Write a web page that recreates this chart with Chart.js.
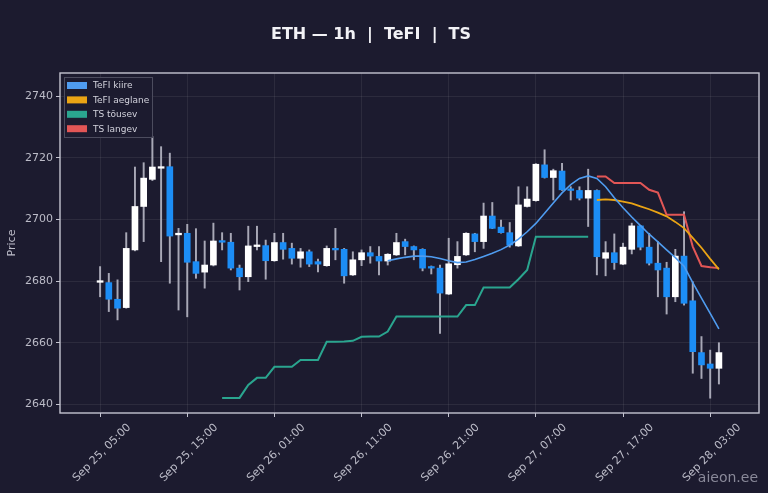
<!DOCTYPE html>
<html>
<head>
<meta charset="utf-8">
<script src="https://cdn.jsdelivr.net/npm/chart.js@4.4.1/dist/chart.umd.min.js"></script>
<style>
html, body { margin: 0; padding: 0; background: #1c1b2f; }
</style>
</head>
<body>
<canvas id="chart" width="768" height="493"></canvas>
<script>
// hourly candles, first one = Sep 25 05:00 (x value counts hours from Sep 25 00:00)
const firstHour = 5;
const tickHours = [5, 15, 25, 35, 45, 55, 65, 75];
const tickLabels = ['Sep 25, 05:00', 'Sep 25, 15:00', 'Sep 26, 01:00', 'Sep 26, 11:00',
                    'Sep 26, 21:00', 'Sep 27, 07:00', 'Sep 27, 17:00', 'Sep 28, 03:00'];
const priceTicks = [2640, 2660, 2680, 2700, 2720, 2740];

const opens = [2679.6, 2679.5, 2674.1, 2671.4, 2690.1, 2704.2, 2713.0, 2716.6, 2717.1, 2695.0,
               2695.5, 2686.3, 2682.9, 2685.2, 2692.9, 2692.6, 2684.2, 2681.4, 2691.2, 2691.5,
               2686.6, 2692.5, 2690.6, 2687.4, 2689.5, 2686.3, 2685.0, 2690.6, 2690.3, 2682.0,
               2686.9, 2689.2, 2688.0, 2686.5, 2688.5, 2692.8, 2691.2, 2690.3, 2684.7, 2684.2,
               2675.8, 2685.3, 2688.5, 2695.3, 2692.8, 2701.1, 2697.5, 2695.7, 2691.4, 2704.2,
               2706.1, 2717.7, 2713.6, 2715.7, 2709.8, 2709.4, 2706.9, 2709.4, 2687.4, 2689.2,
               2685.5, 2690.3, 2697.9, 2691.0, 2685.8, 2684.2, 2674.9, 2688.1, 2673.6, 2656.8,
               2653.1, 2651.7];
const highs = [2684.7, 2682.5, 2680.4, 2695.7, 2717.0, 2718.4, 2726.9, 2723.6, 2721.5, 2697.1,
               2698.4, 2697.0, 2693.0, 2698.8, 2695.7, 2695.5, 2685.2, 2697.8, 2697.8, 2693.3,
               2695.5, 2695.5, 2692.3, 2690.6, 2690.1, 2687.1, 2691.4, 2697.1, 2690.6, 2689.5,
               2690.1, 2691.2, 2691.2, 2688.9, 2695.5, 2693.6, 2691.4, 2690.5, 2684.9, 2685.2,
               2693.9, 2692.8, 2695.7, 2695.5, 2705.3, 2705.5, 2699.8, 2699.0, 2710.6, 2710.6,
               2718.1, 2722.6, 2716.3, 2718.2, 2710.6, 2710.6, 2716.3, 2709.6, 2692.8, 2695.3,
               2692.3, 2698.8, 2698.1, 2695.5, 2692.8, 2686.1, 2690.3, 2702.5, 2679.8, 2662.0,
               2657.6, 2660.0];
const lows = [2674.9, 2670.1, 2667.4, 2671.2, 2689.8, 2692.8, 2712.6, 2686.3, 2679.3, 2670.6,
              2668.4, 2680.9, 2677.7, 2684.9, 2690.1, 2683.6, 2677.1, 2679.8, 2690.1, 2680.6,
              2686.4, 2687.1, 2685.5, 2684.5, 2684.7, 2683.0, 2684.8, 2686.9, 2679.3, 2681.8,
              2685.0, 2685.8, 2682.0, 2685.2, 2688.3, 2688.5, 2686.9, 2683.3, 2682.3, 2663.0,
              2675.6, 2684.2, 2688.3, 2689.5, 2690.6, 2697.0, 2695.5, 2691.0, 2691.2, 2704.0,
              2705.9, 2713.4, 2706.3, 2709.4, 2706.3, 2706.3, 2697.7, 2682.0, 2681.7, 2683.8,
              2685.3, 2688.8, 2690.1, 2685.2, 2674.9, 2669.3, 2673.3, 2672.2, 2650.1, 2648.4,
              2642.0, 2646.6];
const closes = [2680.0, 2674.1, 2671.2, 2690.6, 2704.2, 2713.4, 2717.0, 2716.9, 2694.6, 2695.3,
                2686.1, 2682.5, 2685.2, 2693.0, 2692.6, 2684.2, 2681.4, 2691.4, 2691.4, 2686.6,
                2692.5, 2690.3, 2687.4, 2689.5, 2685.5, 2685.5, 2690.6, 2690.1, 2681.7, 2686.9,
                2689.2, 2688.1, 2686.5, 2688.7, 2692.5, 2691.2, 2690.1, 2684.2, 2684.2, 2676.1,
                2685.6, 2688.0, 2695.5, 2692.8, 2701.1, 2697.1, 2695.7, 2691.7, 2704.7, 2706.6,
                2717.9, 2713.6, 2715.8, 2709.6, 2709.4, 2706.9, 2709.4, 2687.9, 2689.2, 2686.0,
                2691.0, 2697.9, 2691.0, 2685.8, 2683.6, 2674.9, 2688.1, 2672.8, 2657.1, 2652.8,
                2651.7, 2656.8];

// indicator series, each starts at the given candle index
const tefiFastStart = 33;
const tefiFast = [2686.6, 2687.2, 2687.7, 2688.1, 2688.1, 2687.9, 2687.3, 2686.6, 2686.0, 2686.2,
                  2687.0, 2688.0, 2689.0, 2690.2, 2691.7, 2693.6, 2696.0, 2698.7, 2702.0, 2705.3,
                  2708.6, 2711.3, 2713.3, 2714.1, 2713.3, 2710.6, 2707.0, 2703.8, 2700.8, 2698.0,
                  2695.2, 2692.7, 2690.1, 2687.6, 2684.8, 2679.5, 2674.5, 2669.5, 2664.5];
const tefiSlowStart = 57;
const tefiSlow = [2706.3, 2706.5, 2706.3, 2705.8, 2705.2, 2704.2, 2703.3, 2702.2, 2701.0, 2699.2,
                  2697.2, 2694.0, 2690.8, 2687.2, 2683.8];
const tsUpStart = 14;
const tsUp = [2642.1, 2642.1, 2642.1, 2646.3, 2648.6, 2648.6, 2652.2, 2652.2, 2652.2, 2654.4,
              2654.4, 2654.4, 2660.3, 2660.3, 2660.4, 2660.6, 2661.9, 2662.0, 2662.0, 2663.6,
              2668.5, 2668.5, 2668.5, 2668.5, 2668.5, 2668.5, 2668.5, 2668.5, 2672.2, 2672.2,
              2677.9, 2677.9, 2677.9, 2677.9, 2680.6, 2683.6, 2694.4, 2694.4, 2694.4, 2694.4,
              2694.4, 2694.4, 2694.4];
const tsDownStart = 57;
const tsDown = [2713.9, 2713.9, 2711.8, 2711.8, 2711.8, 2711.8, 2709.6, 2708.7, 2701.5, 2701.5,
                2701.5, 2691.2, 2684.9, 2684.5, 2684.2];

const bgColor = '#1c1b2f';
const textColor = '#bcbcc8';
const upColor = '#ffffff';
const downColor = '#1c8df5';
const font = 'DejaVu Sans';

const bodies = opens.map((o, i) => ({x: firstHour + i, y: [o, closes[i]]}));
const wicks = lows.map((l, i) => ({x: firstHour + i, y: [l, highs[i]]}));
const bodyColors = opens.map((o, i) => closes[i] >= o ? upColor : downColor);

function linePoints(start, vals) {
    return vals.map((v, k) => ({x: firstHour + start + k, y: v}));
}

function lineSet(label, start, vals, color, width) {
    return {
        type: 'line',
        label: label,
        data: linePoints(start, vals),
        borderColor: color,
        backgroundColor: color,
        borderWidth: width,
        pointRadius: 0,
        tension: 0,
        fill: false,
        order: 1
    };
}

const decor = {
    id: 'decor',
    beforeDraw(chart) {
        const ctx = chart.ctx;
        ctx.save();
        ctx.fillStyle = bgColor;
        ctx.fillRect(0, 0, chart.width, chart.height);
        ctx.restore();
    },
    afterDraw(chart) {
        const ctx = chart.ctx;
        const a = chart.chartArea;
        ctx.save();
        // frame
        ctx.strokeStyle = '#c4c4d0';
        ctx.lineWidth = 1.4;
        ctx.strokeRect(a.left, a.top, a.right - a.left, a.bottom - a.top);

        // title
        ctx.fillStyle = '#f2f2f6';
        ctx.font = 'bold 16px "' + font + '"';
        ctx.textAlign = 'center';
        ctx.textBaseline = 'alphabetic';
        ctx.fillText('ETH \u2014 1h  |  TeFI  |  TS', 371, 39);

        // legend
        const lines = chart.data.datasets.filter(d => d.type === 'line');
        ctx.fillStyle = 'rgba(28,27,47,0.85)';
        ctx.strokeStyle = '#4c4c5e';
        ctx.lineWidth = 1;
        ctx.fillRect(64.5, 77.5, 88, 60);
        ctx.strokeRect(64.5, 77.5, 88, 60);
        ctx.font = '9px "' + font + '"';
        ctx.textAlign = 'left';
        ctx.textBaseline = 'middle';
        lines.forEach((d, k) => {
            const y = 85.5 + k * 14.4;
            ctx.fillStyle = d.borderColor;
            ctx.fillRect(67, y - 3.5, 20, 7);
            ctx.fillStyle = '#d2d2dc';
            ctx.fillText(d.label, 93, y + 0.5);
        });

        // watermark
        ctx.fillStyle = 'rgba(165,165,180,0.8)';
        ctx.font = '14px "' + font + '"';
        ctx.textAlign = 'right';
        ctx.textBaseline = 'alphabetic';
        ctx.fillText('aieon.ee', 758, 482);
        ctx.restore();
    }
};

const ctx = document.getElementById('chart').getContext('2d');

new Chart(ctx, {
    type: 'bar',
    data: {
        datasets: [
            {
                label: 'wicks',
                data: wicks,
                backgroundColor: '#a8a8b6',
                barThickness: 1.3,
                grouped: false,
                borderWidth: 0,
                order: 3
            },
            {
                label: 'bodies',
                data: bodies,
                backgroundColor: bodyColors,
                barThickness: 6,
                minBarLength: 1.6,
                grouped: false,
                borderWidth: 0,
                order: 2
            },
            lineSet('TeFI kiire', tefiFastStart, tefiFast, '#4f9cf0', 1.6),
            lineSet('TeFI aeglane', tefiSlowStart, tefiSlow, '#eaa414', 1.8),
            lineSet('TS t\u00f5usev', tsUpStart, tsUp, '#2aa58f', 2),
            lineSet('TS langev', tsDownStart, tsDown, '#e25656', 2)
        ]
    },
    options: {
        responsive: false,
        animation: false,
        layout: { padding: { top: 73, right: 9, bottom: 0, left: 0 } },
        plugins: {
            legend: { display: false },
            title: { display: false },
            tooltip: { enabled: false }
        },
        scales: {
            x: {
                type: 'linear',
                offset: false,
                min: firstHour - 4.6,
                max: firstHour + 71 + 4.6,
                afterBuildTicks: s => { s.ticks = tickHours.map(v => ({value: v})); },
                afterFit: s => { s.height = 80; },
                ticks: {
                    autoSkip: false,
                    maxRotation: 45,
                    minRotation: 45,
                    color: textColor,
                    font: { family: font, size: 11 },
                    labelOffset: 29,
                    padding: 4,
                    callback: v => tickLabels[tickHours.indexOf(v)]
                },
                grid: { offset: false, color: 'rgba(255,255,255,0.07)', tickColor: '#c4c4d0', tickLength: 4 },
                border: { display: false }
            },
            y: {
                min: 2637.2,
                max: 2747.5,
                afterBuildTicks: s => { s.ticks = priceTicks.map(v => ({value: v})); },
                afterFit: s => { s.width = 60; },
                ticks: {
                    color: textColor,
                    font: { family: font, size: 11 },
                    padding: 3,
                    callback: v => String(v)
                },
                title: {
                    display: true,
                    text: 'Price',
                    color: textColor,
                    font: { family: font, size: 11 },
                    padding: { top: 6, bottom: 0 }
                },
                grid: { color: 'rgba(255,255,255,0.07)', tickColor: '#c4c4d0', tickLength: 4 },
                border: { display: false }
            }
        }
    },
    plugins: [decor]
});
</script>
</body>
</html>
